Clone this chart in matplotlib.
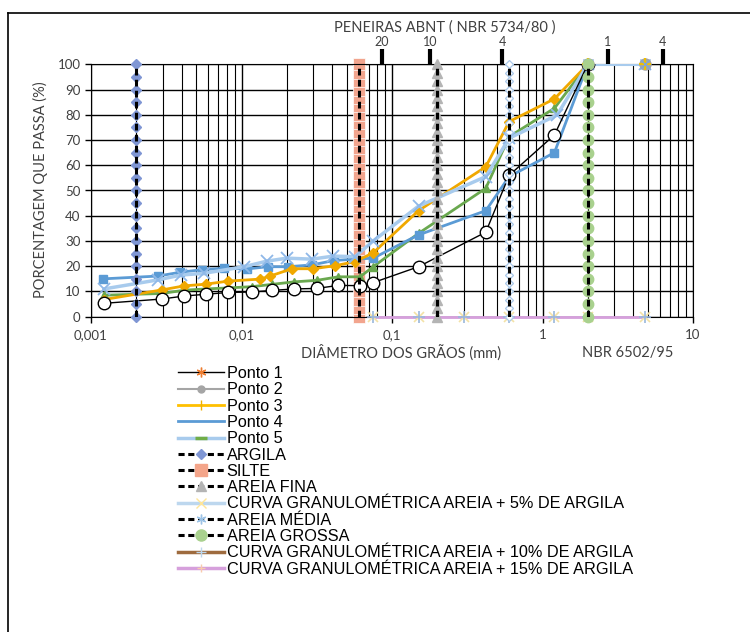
import matplotlib.pyplot as plt
from matplotlib.lines import Line2D
from matplotlib.ticker import FixedLocator, NullLocator, LogLocator
import numpy as np

# curvas granulometricas (diametro mm, % que passa)
ponto1_d = [0.00122, 0.00295, 0.00417, 0.00581, 0.00817, 0.0117, 0.0159, 0.0223, 0.0316, 0.0440, 0.0613, 0.075, 0.15, 0.42, 0.6, 1.2, 2.0]
ponto1_p = [5.3, 7.0, 8.2, 8.9, 9.6, 9.8, 10.4, 11.0, 11.2, 12.4, 12.3, 13.5, 19.8, 33.5, 56.0, 72.0, 100]

ponto4_d = [0.00121, 0.00279, 0.0039, 0.00544, 0.0077, 0.0108, 0.0149, 0.0203, 0.0293, 0.0414, 0.075, 0.15, 0.42, 0.6, 1.2, 2.0]
ponto4_p = [15.0, 16.1, 17.6, 18.6, 19.2, 18.9, 19.8, 19.8, 20.5, 22.3, 23.2, 32.4, 42.0, 55.5, 65.0, 100]

ponto3_d = [0.00122, 0.00295, 0.00415, 0.00581, 0.00817, 0.0133, 0.0155, 0.0216, 0.030, 0.0418, 0.0568, 0.075, 0.15, 0.42, 0.6, 1.2, 2.0]
ponto3_p = [6.8, 10.6, 12.2, 12.9, 14.1, 14.9, 16.1, 19.0, 19.0, 20.2, 21.8, 25.3, 42.0, 59.4, 77.3, 86.3, 100]

ponto5_d = [0.00122, 0.00295, 0.00417, 0.00581, 0.00817, 0.0117, 0.0159, 0.0223, 0.0316, 0.0440, 0.0613, 0.075, 0.15, 0.42, 0.6, 1.2, 2.0]
ponto5_p = [8.5, 9.2, 10.5, 11.0, 11.4, 11.9, 12.8, 13.8, 14.4, 15.8, 15.8, 19.8, 33.0, 50.9, 71.3, 82.6, 100]

curva5_d = [0.00122, 0.00279, 0.00396, 0.00563, 0.0104, 0.0147, 0.0200, 0.0293, 0.0407, 0.0568, 0.075, 0.15, 0.42, 0.6, 1.25, 2.0, 4.8]
curva5_p = [11.0, 14.6, 16.5, 17.2, 19.8, 22.0, 23.2, 22.8, 24.0, 23.8, 30.0, 43.8, 55.5, 70.7, 79.9, 100, 100]

curva15_d = [0.075, 0.15, 0.3, 0.6, 1.2, 2.0, 4.8]
curva15_p = [0, 0, 0, 0, 0, 0, 0]

ponto2_d = [2.0, 4.8]
ponto2_p = [100, 100]

# limites das fracoes (NBR 6502/95)
argila_d = 0.002
silte_d = 0.06
fina_d = 0.2
media_d = 0.6
grossa_d = 2.0
y_21 = [0, 5, 10, 15, 20, 25, 30, 35, 40, 45, 50, 55, 60, 65, 70, 75, 80, 85, 90, 95, 100]
y_31 = [0, 3.3, 6.7, 10, 13.3, 16.7, 20, 23.3, 26.7, 30, 33.3, 36.7, 40, 43.3, 46.7, 50,
        53.3, 56.7, 60, 63.3, 66.7, 70, 73.3, 76.7, 80, 83.3, 86.7, 90, 93.3, 96.7, 100]

# peneiras (eixo de cima)
peneira_d = [0.086, 0.18, 0.54, 2.72, 6.3]
peneira_lab = ['20', '10', '4', '1', '4']

xticks = [0.001, 0.01, 0.1, 1, 10]
xticklab = ['0,001', '0,01', '0,1', '1', '10']

txt = '#404040'
fnt = 'Lato'

fig = plt.figure(figsize=(7.5, 6.32), dpi=100)
ax = fig.add_axes([91/750, 1-316.7/632, 602/750, 252.4/632])
ax.set_xscale('log')
ax.set_xlim(0.001, 10)
ax.set_ylim(0, 100)
ax.set_axisbelow(True)

ax.xaxis.set_major_locator(FixedLocator(xticks))
ax.set_xticklabels(xticklab)
ax.xaxis.set_minor_locator(LogLocator(base=10, subs=np.arange(2, 10)))
ax.set_yticks(np.arange(0, 101, 10))
ax.grid(True, which='major', color='black', lw=1.0)
ax.grid(True, which='minor', axis='x', color='black', lw=0.8)
ax.tick_params(which='major', direction='out', length=4, width=1, colors='black',
               labelcolor=txt, labelsize=9.5)
ax.tick_params(axis='x', which='major', pad=5)
ax.tick_params(which='minor', length=0)
for lab in ax.get_xticklabels() + ax.get_yticklabels():
    lab.set_fontfamily(fnt)
for s in ax.spines.values():
    s.set_color('black')

# curvas
ax.plot(ponto5_d, ponto5_p, color='#6aa84f', lw=2, marker='^', ms=6, zorder=3)
ax.plot(ponto4_d, ponto4_p, color='#5b9bd5', lw=2, marker='s', ms=6, zorder=3)
ax.plot(ponto3_d, ponto3_p, color='#f0a800', lw=2, marker='D', ms=5, zorder=3)
ax.plot(curva5_d, curva5_p, color='#a8cbed', lw=2.5, marker='x', ms=8, mew=1.3,
        mec='#8fb8e8', zorder=3.2)
ax.plot(ponto1_d, ponto1_p, color='black', lw=1, marker='o', ms=9, mfc='white',
        mec='black', mew=1, zorder=3.4)
ax.plot(curva15_d, curva15_p, color='#d6a0dc', lw=2, zorder=3, clip_on=False)
ax.plot(curva15_d, curva15_p, ls='none', marker='x', ms=7, mec='#f3e2a6', mew=1.2,
        zorder=3.1, clip_on=False)
ax.plot(curva15_d, curva15_p, ls='none', marker='+', ms=9, mec='#9ab8dc', mew=1.2,
        zorder=3.1, clip_on=False)
ax.plot(ponto2_d, ponto2_p, ls='none', marker='o', ms=8, mfc='#a5a5a5', mec='#a5a5a5',
        zorder=3.5, clip_on=False)
ax.plot(ponto2_d, ponto2_p, ls='none', marker='+', ms=8, mec='#f0c000', mew=1.5,
        zorder=3.6, clip_on=False)
ax.plot(ponto2_d, ponto2_p, ls='none', marker='x', ms=7, mec='#7fa6d6', mew=1,
        zorder=3.6, clip_on=False)

# linhas das fracoes
dash = (0, (2.2, 1.4))
ax.plot([argila_d] * len(y_21), y_21, ls='none', marker='D', ms=5.5, mfc='#7f96d4',
        mec='#7f96d4', zorder=4, clip_on=False)
ax.plot([silte_d] * len(y_31), y_31, ls='none', marker='s', ms=8, mfc='#f2a58e',
        mec='white', mew=0.5, zorder=2.5, clip_on=False)
ax.plot([fina_d] * len(y_31), y_31, ls='none', marker='^', ms=6.5, mfc='#b4b4b4',
        mec='#b4b4b4', zorder=4, clip_on=False)
ax.plot([media_d] * len(y_31), y_31, ls='none', marker='D', ms=4, mfc='white',
        mec='#a9c8ea', mew=0.9, zorder=4, clip_on=False)
ax.plot([grossa_d] * len(y_21), y_21, ls='none', marker='o', ms=7.5, mfc='#a9d18e',
        mec='#a9d18e', zorder=4, clip_on=False)
for d in [argila_d, silte_d, fina_d, media_d, grossa_d]:
    ax.plot([d, d], [0, 100], color='black', lw=2.2, ls=dash, zorder=5)

# eixo superior - peneiras
ax2 = ax.twiny()
ax2.set_xscale('log')
ax2.set_xlim(ax.get_xlim())
ax2.xaxis.set_major_locator(FixedLocator(peneira_d))
ax2.xaxis.set_minor_locator(NullLocator())
ax2.set_xticklabels(peneira_lab, fontfamily=fnt)
ax2.tick_params(axis='x', direction='out', length=11, width=3, colors='black',
                labelcolor=txt, labelsize=9, pad=1)
for s in ax2.spines.values():
    s.set_visible(False)

fig.text(445/750, 1-28/632, 'PENEIRAS ABNT ( NBR 5734/80 )', ha='center', va='center',
         fontsize=10.5, color=txt, fontfamily=fnt)
fig.text(40/750, 1-190/632, 'PORCENTAGEM QUE PASSA (%)', rotation=90, ha='center',
         va='center', fontsize=10.5, color=txt, fontfamily=fnt)
fig.text(401/750, 1-353/632, 'DIÂMETRO DOS GRÃOS (mm)', ha='center', va='center',
         fontsize=10.5, color=txt, fontfamily=fnt)
fig.text(628/750, 1-353/632, 'NBR 6502/95', ha='center', va='center',
         fontsize=10.5, color=txt, fontfamily=fnt)

# legenda (estilos como no original)
dl = (0, (2.0, 1.2))
h = [
    Line2D([], [], color='black', lw=1, marker=(6, 2, 0), ms=7, mec='#ed7d31', mew=1),
    Line2D([], [], color='#a5a5a5', lw=1.5, marker='o', ms=5, mfc='#a5a5a5', mec='#a5a5a5'),
    Line2D([], [], color='#ffc000', lw=2, marker='|', ms=7, mec='#f0b000', mew=1),
    Line2D([], [], color='#5b9bd5', lw=2),
    Line2D([], [], color='#a8cbed', lw=2.5, marker='_', ms=8, mec='#70ad47', mew=2.5),
    Line2D([], [], color='black', lw=2.2, ls=dl, marker='D', ms=5.5, mfc='#7f96d4', mec='#7f96d4'),
    Line2D([], [], color='black', lw=2.2, ls=dl, marker='s', ms=8, mfc='#f4a58a', mec='#f4a58a'),
    Line2D([], [], color='black', lw=2.2, ls=dl, marker='^', ms=7, mfc='#b4b4b4', mec='#b4b4b4'),
    Line2D([], [], color='#bdd7ee', lw=2.5, marker='x', ms=7, mec='#ffe699', mew=1),
    Line2D([], [], color='black', lw=2.2, ls=dl, marker=(6, 2, 0), ms=7, mec='#9dc3e6', mew=1),
    Line2D([], [], color='black', lw=2.2, ls=dl, marker='o', ms=8, mfc='#a9d18e', mec='#a9d18e'),
    Line2D([], [], color='#9e6b3e', lw=2.5, marker='+', ms=7, mec='#bdd7ee', mew=1),
    Line2D([], [], color='#d6a0dc', lw=2.5, marker='+', ms=6, mec='#f8cbad', mew=1),
]
labels = ['Ponto 1', 'Ponto 2', 'Ponto 3', 'Ponto 4', 'Ponto 5', 'ARGILA', 'SILTE',
          'AREIA FINA', 'CURVA GRANULOMÉTRICA AREIA + 5% DE ARGILA', 'AREIA MÉDIA',
          'AREIA GROSSA', 'CURVA GRANULOMÉTRICA AREIA + 10% DE ARGILA',
          'CURVA GRANULOMÉTRICA AREIA + 15% DE ARGILA']
fig.legend(h, labels, loc='upper left', bbox_to_anchor=(178/750, 1-366/632),
           frameon=False, borderaxespad=0, borderpad=0, labelspacing=0.08,
           handlelength=2.8, handletextpad=0.2,
           prop={'family': 'Liberation Sans', 'size': 11.7})

# moldura
fig.add_artist(Line2D([8/750, 8/750], [0, 1-13/632], transform=fig.transFigure,
                      color='black', lw=1.2))
fig.add_artist(Line2D([8/750, 1], [1-13/632, 1-13/632], transform=fig.transFigure,
                      color='black', lw=1.2))

fig.savefig('out.png', dpi=100)
